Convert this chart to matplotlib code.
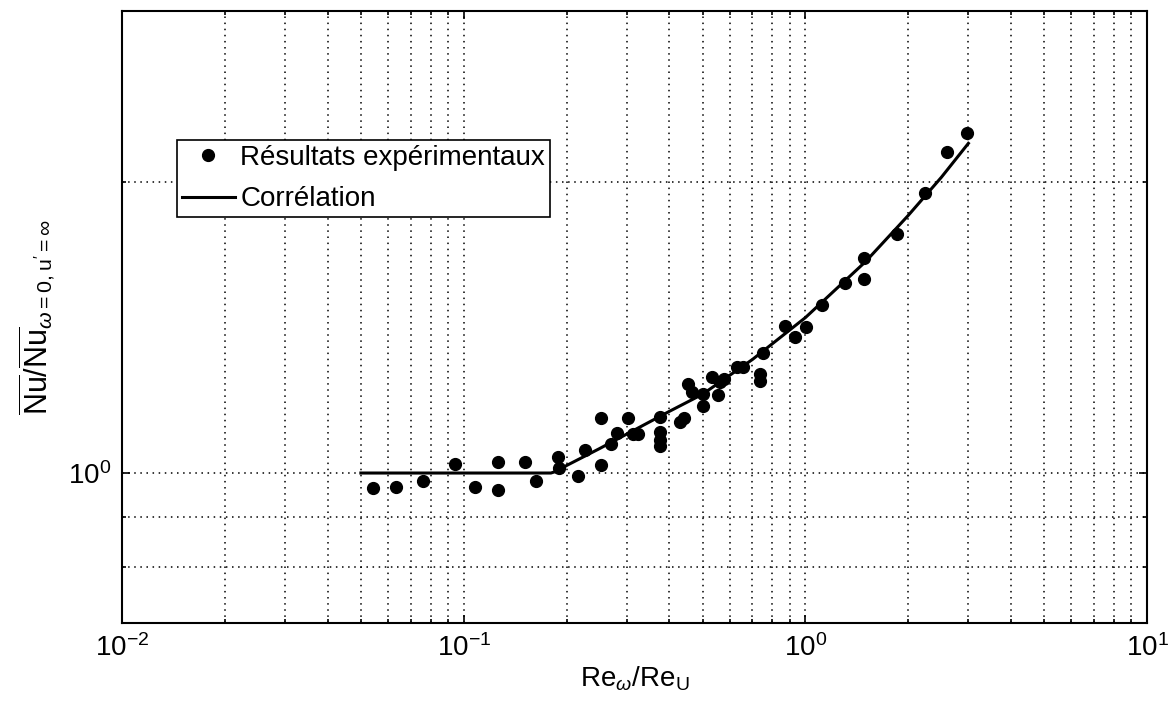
import matplotlib
matplotlib.use("Agg")
import matplotlib.pyplot as plt
from matplotlib.ticker import LogLocator, NullFormatter, FixedLocator, FixedFormatter

plt.rcParams['font.family'] = ['Liberation Sans', 'DejaVu Sans']
plt.rcParams['mathtext.fontset'] = 'custom'
plt.rcParams['mathtext.rm'] = 'Liberation Sans'
plt.rcParams['mathtext.it'] = 'Liberation Sans:italic'
plt.rcParams['mathtext.bf'] = 'Liberation Sans:bold'

# experimental points (Re_w/Re_U, Nu ratio)
exp_x = [0.0544, 0.0634, 0.0759, 0.0943, 0.108, 0.1263, 0.126, 0.1511, 0.1625, 0.189,
         0.190, 0.2165, 0.2265, 0.252, 0.252, 0.269, 0.2817, 0.303, 0.313, 0.323,
         0.3754, 0.3754, 0.3754, 0.3754, 0.4295, 0.441, 0.4535, 0.465, 0.5026, 0.5026,
         0.532, 0.556, 0.563, 0.578, 0.6295, 0.658, 0.7365, 0.7365, 0.753, 0.8716,
         0.9324, 1.004, 1.116, 1.306, 1.485, 1.485, 1.858, 2.239, 2.602, 2.966]
exp_y = [0.964, 0.968, 0.982, 1.022, 0.968, 1.026, 0.960, 1.026, 0.982, 1.038,
         1.013, 0.994, 1.057, 1.139, 1.020, 1.071, 1.099, 1.139, 1.097, 1.097,
         1.143, 1.103, 1.082, 1.066, 1.129, 1.139, 1.235, 1.212, 1.208, 1.174,
         1.257, 1.204, 1.242, 1.252, 1.287, 1.287, 1.267, 1.246, 1.329, 1.420,
         1.382, 1.416, 1.491, 1.572, 1.588, 1.669, 1.767, 1.944, 2.144, 2.247]

# correlation curve
corr_x = [0.05, 0.18, 0.19, 0.2, 0.25, 0.3, 0.4, 0.5, 0.7, 1.0, 1.5, 2.0, 2.5, 3.0]
corr_y = [1.0, 1.0, 1.006, 1.018, 1.06, 1.097, 1.158, 1.206, 1.31, 1.447, 1.653, 1.845, 2.02, 2.19]

legend_labels = ["Résultats expérimentaux", "Corrélation"]
ytick_vals = [1.0]
ytick_labels = [r"$\mathdefault{10^{0}}$"]
yminor_vals = [0.7, 0.8, 0.9, 2, 3]

fig = plt.figure(figsize=(11.69, 7.10), dpi=100)
ax = fig.add_axes([0.1044, 0.1225, 0.8768, 0.862])

ax.plot(exp_x, exp_y, linestyle="None", marker="o", color="black",
        markersize=8.5, label=legend_labels[0], zorder=3)
ax.plot(corr_x, corr_y, color="black", linewidth=2.2, label=legend_labels[1], zorder=3)

ax.set_xscale("log")
ax.set_yscale("log")
ax.set_xlim(1e-2, 1e1)
ax.set_ylim(0.7, 3)

ax.xaxis.set_major_locator(LogLocator(base=10, numticks=10))
ax.xaxis.set_minor_locator(LogLocator(base=10, subs=range(2, 10), numticks=20))
ax.xaxis.set_minor_formatter(NullFormatter())
ax.yaxis.set_major_locator(FixedLocator(ytick_vals))
ax.yaxis.set_major_formatter(FixedFormatter(ytick_labels))
ax.yaxis.set_minor_locator(FixedLocator(yminor_vals))
ax.yaxis.set_minor_formatter(NullFormatter())

ax.grid(True, which="both", color="black", linestyle=(0, (1, 3)), linewidth=1.1)
ax.tick_params(which="both", direction="in", top=True, right=True, width=1.2)
ax.tick_params(which="major", length=6, labelsize=20, pad=8)
ax.tick_params(which="minor", length=3)
for sp in ax.spines.values():
    sp.set_linewidth(1.5)

ax.set_xlabel(r"$\mathrm{Re}_{\omega}/\mathrm{Re}_{\mathrm{U}}$", fontsize=20, labelpad=2)
ax.set_ylabel(r"$\overline{\mathrm{Nu}}/\overline{\mathrm{Nu}}_{\omega\mathrm{=0,u'=}\infty}$",
              fontsize=22, labelpad=8)

leg = ax.legend(loc="upper left", bbox_to_anchor=(0.0537, 0.789), numpoints=1,
                fontsize=20, handlelength=1.9, handletextpad=0.2, borderpad=0.18,
                labelspacing=0.55, borderaxespad=0, fancybox=False, framealpha=1)
leg.get_frame().set_edgecolor("black")
leg.get_frame().set_linewidth(1.2)

fig.savefig("out.png", dpi=100)
